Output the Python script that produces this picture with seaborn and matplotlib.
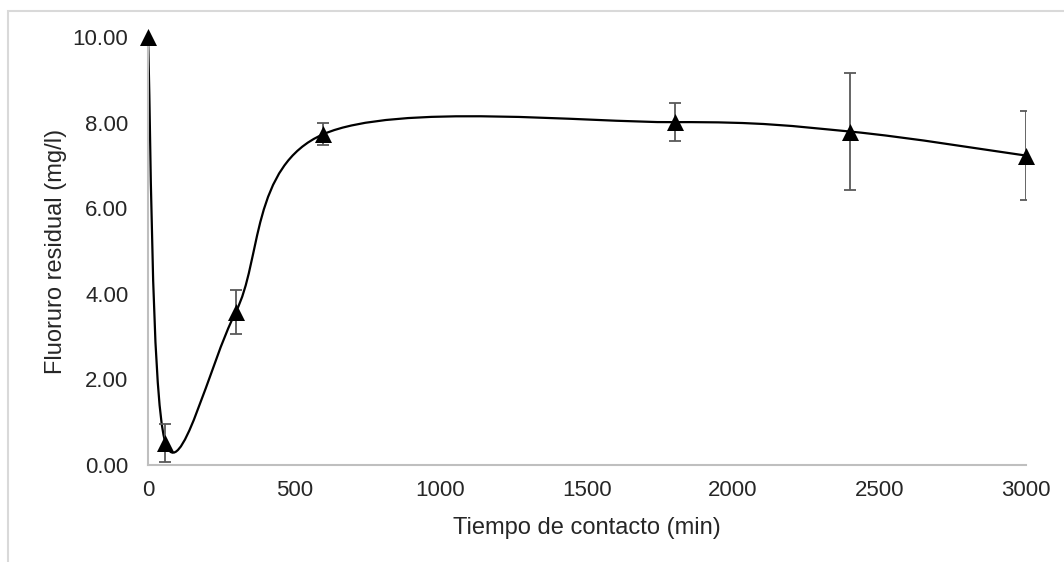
import matplotlib
matplotlib.use("Agg")
import matplotlib.pyplot as plt
from matplotlib.path import Path
from matplotlib.patches import PathPatch, Rectangle
import seaborn as sns
import pandas as pd
import numpy as np

sns.set_theme(style="white")
plt.rcParams['font.family'] = ['Liberation Sans', 'DejaVu Sans']

tiempo = [0, 60, 300, 600, 1800, 2400, 3000]
fluoruro = [10.0, 0.52, 3.57, 7.73, 8.01, 7.79, 7.23]
error = [0.0, 0.44, 0.51, 0.25, 0.45, 1.36, 1.04]
xticks = [0, 500, 1000, 1500, 2000, 2500, 3000]
yticks = [0, 2, 4, 6, 8, 10]

df = pd.DataFrame({"t": tiempo, "f": fluoruro, "e": error})

fig = plt.figure(figsize=(10.64, 5.62), dpi=100)
ax = fig.add_axes([0.139, 0.1726, 0.825, 0.7616])

# excel-like smoothed line (bezier through points)
pts = df[["t", "f"]].to_numpy(dtype=float)
verts = [tuple(pts[0])]
codes = [Path.MOVETO]
n = len(pts)
for i in range(n - 1):
    p0 = pts[i - 1] if i > 0 else pts[i]
    p1 = pts[i]
    p2 = pts[i + 1]
    p3 = pts[i + 2] if i + 2 < n else pts[i + 1]
    c1 = p1 + (p2 - p0) / 6.0
    c2 = p2 - (p3 - p1) / 6.0
    verts += [tuple(c1), tuple(c2), tuple(p2)]
    codes += [Path.CURVE4] * 3
ax.add_patch(PathPatch(Path(verts, codes), facecolor="none", edgecolor="black",
                       lw=1.6, zorder=2))

err = df[df["e"] > 0]
ax.errorbar(err["t"], err["f"], yerr=err["e"], fmt="none", ecolor="#595959",
            elinewidth=1.3, capsize=4, capthick=1.3, zorder=3)

sns.scatterplot(data=df, x="t", y="f", marker="^", s=150, color="black",
                edgecolor="black", linewidth=0, ax=ax, zorder=4, clip_on=False)

ax.set_xlim(0, 3000)
ax.set_ylim(0, 10)
ax.set_xticks(xticks)
ax.set_yticks(yticks)
ax.set_yticklabels([f"{v:.2f}" for v in yticks])
ax.tick_params(axis="both", labelsize=16, colors="#262626", length=0)
ax.tick_params(axis="y", pad=14)
ax.tick_params(axis="x", pad=11)
ax.set_xlabel("Tiempo de contacto (min)", fontsize=17, color="#262626", labelpad=11)
ax.set_ylabel("Fluoruro residual (mg/l)", fontsize=17, color="#262626", labelpad=4)

for s in ["top", "right"]:
    ax.spines[s].set_visible(False)
for s in ["left", "bottom"]:
    ax.spines[s].set_color("#BFBFBF")
    ax.spines[s].set_linewidth(1.5)

fig.patches.append(Rectangle((8 / 1064, -0.1), 1.2, (562 - 11) / 562 + 0.1,
                             transform=fig.transFigure, fill=False,
                             edgecolor="#D9D9D9", lw=1.5))

fig.savefig("out.png", dpi=100)
